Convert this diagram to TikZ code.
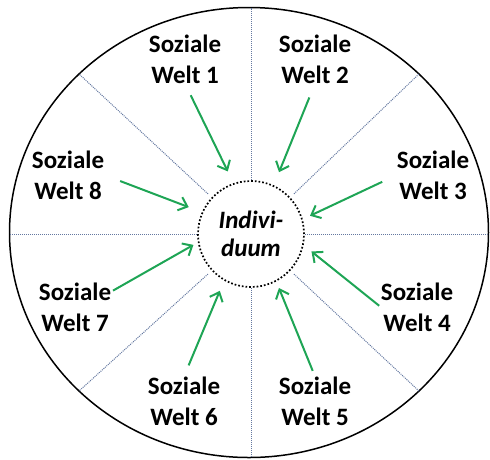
\documentclass[tikz,border=0pt]{standalone}
\usepackage{fontspec}
\setmainfont{Carlito}
\usetikzlibrary{arrows.meta,shapes.geometric}
\definecolor{weltgreen}{RGB}{30,165,85}
\definecolor{spokegray}{RGB}{100,120,160}

\begin{document}
\begin{tikzpicture}
[x=1pt,y=-1pt,
world/.style={
  font=\fontsize{25}{31}\selectfont\bfseries, align=center, inner sep=0pt
},
person/.style={
  circle, draw, dotted, line width=1.7pt, minimum size=106pt, inner sep=0pt,
  font=\fontsize{25}{28}\selectfont\bfseries\itshape, align=center
},
rim/.style={
  ellipse, draw, line width=1.5pt, minimum width=479pt, minimum height=450pt,
  inner sep=0pt, outer sep=0pt
},
spoke/.style={draw=spokegray, densely dotted, line width=1pt},
flow/.style={
  draw=weltgreen, line width=2pt, -{Straight Barb[length=8pt,width=14pt]}
}
]
\useasboundingbox (0,0) rectangle (490,459);

% Rim and centre
\node[rim] (rim) at (249,232.5) {};
\node[person] (ind) at (251,234) {Indivi-\\duum};

% Spokes
\draw[spoke] (ind.north) -- (ind.north |- rim.north);
\draw[spoke] (ind.south) -- (ind.south |- rim.south);
\draw[spoke] (ind.west) -- (ind.west -| rim.west);
\draw[spoke] (ind.east) -- (ind.east -| rim.east);
\draw[spoke, shorten <=5pt] (ind.137) -- (rim.137);
\draw[spoke, shorten <=5pt] (ind.43) -- (rim.43);
\draw[spoke, shorten <=5pt] (ind.223) -- (rim.223);
\draw[spoke, shorten <=5pt] (ind.317) -- (rim.317);

% Social worlds
\node[world] (w1) at (185,59) {Soziale\\Welt 1};
\node[world] (w2) at (315,59) {Soziale\\Welt 2};
\node[world] (w3) at (433,175) {Soziale\\Welt 3};
\node[world] (w4) at (417,307) {Soziale\\Welt 4};
\node[world] (w5) at (315,401) {Soziale\\Welt 5};
\node[world] (w6) at (184,401) {Soziale\\Welt 6};
\node[world] (w7) at (75,307) {Soziale\\Welt 7};
\node[world] (w8) at (68,175) {Soziale\\Welt 8};

% Arrows
\draw[flow, shorten <=13pt, shorten >=13pt] (w1.south) -- (ind.109);
\draw[flow, shorten <=15pt, shorten >=14pt] (w2.south) -- (ind.65);
\draw[flow, shorten <=16pt, shorten >=8pt] (w3.west) -- (ind.16);
\draw[flow, shorten <=2pt, shorten >=10pt] (w4.west) -- (ind.-12);
\draw[flow, shorten <=6pt, shorten >=7pt] (w5.north) -- (ind.298);
\draw[flow, shorten <=12pt, shorten >=11pt] (w6.north) -- (ind.240);
\draw[flow, shorten <=2pt, shorten >=5pt] (w7.23) -- (ind.189);
\draw[flow, shorten <=17pt, shorten >=14pt] (w8.east) -- (ind.156);

\end{tikzpicture}
\end{document}
